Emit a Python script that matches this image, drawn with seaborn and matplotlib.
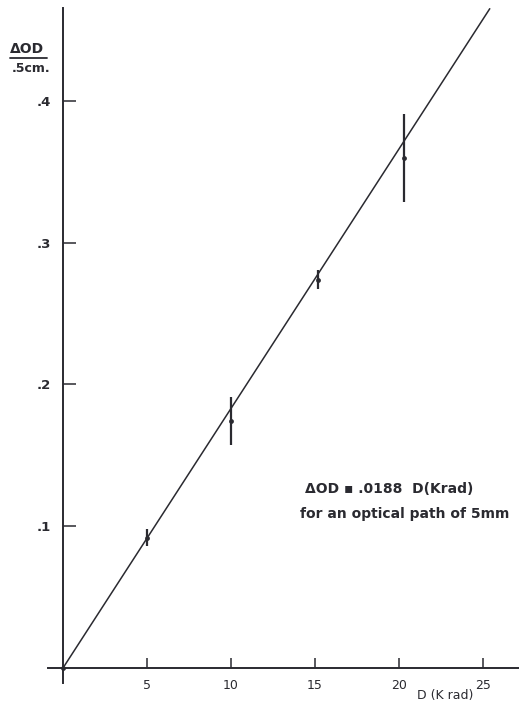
import matplotlib
matplotlib.use("Agg")
import matplotlib.pyplot as plt
from matplotlib.lines import Line2D
import pandas as pd
import seaborn as sns

# dose (Krad) vs optical density change per .5 cm
dose = [0, 5, 10, 15.2, 20.3]
delta_od = [0, 0.092, 0.174, 0.274, 0.360]
od_err = [0, 0.006, 0.017, 0.007, 0.031]

# fitted straight line, as drawn
fit_dose = [0, 25.4]
fit_od = [0, 0.465]

x_ticks = [5, 10, 15, 20, 25]
x_labels = ["5", "10", "15", "20", "25"]
y_ticks = [0.1, 0.2, 0.3, 0.4]
y_labels = [".1", ".2", ".3", ".4"]

ink = "#2a2a30"

sns.set_style("white")
plt.rcParams["font.family"] = ["DejaVu Sans"]

fig = plt.figure(figsize=(5.19, 7.07), dpi=100)
W, H = 519, 707
ax = fig.add_axes([48 / W, 1 - 683 / H, (519 - 48) / W, (683 - 8) / H])

pts = pd.DataFrame({"dose": dose, "od": delta_od, "err": od_err})
fit = pd.DataFrame({"dose": fit_dose, "od": fit_od})

sns.lineplot(data=fit, x="dose", y="od", color=ink, linewidth=1.1, ax=ax)
ax.errorbar(pts["dose"], pts["od"], yerr=pts["err"], fmt="none",
            ecolor=ink, elinewidth=1.6, capsize=0, zorder=3)
sns.scatterplot(data=pts, x="dose", y="od", color=ink, s=12, marker="o",
                edgecolor=ink, linewidth=0, ax=ax, zorder=4)

ax.set_xlim(-0.893, 27.14)
ax.set_ylim(-0.0106, 0.4655)

for side in ["top", "right"]:
    ax.spines[side].set_visible(False)
ax.spines["left"].set_position(("data", 0))
ax.spines["bottom"].set_position(("data", 0))
for side in ["left", "bottom"]:
    ax.spines[side].set_color(ink)
    ax.spines[side].set_linewidth(1.4)

ax.set_xticks(x_ticks)
ax.set_xticklabels(x_labels)
ax.set_yticks(y_ticks)
ax.set_yticklabels(y_labels, fontweight="bold")
ax.tick_params(axis="x", bottom=True, direction="in", length=7.5, width=1.1,
               color=ink, pad=8, labelsize=9, labelcolor=ink)
ax.tick_params(axis="y", left=True, direction="in", length=9.5, width=1.1,
               color=ink, pad=9, labelsize=9.5, labelcolor=ink)
ax.yaxis.get_major_ticks()[0].tick1line.set_color("#5aa36a")
ax.set_xlabel("")
ax.set_ylabel("")

# axis titles
fig.text(445 / W, 1 - 695 / H, "D (K rad)", ha="center", va="center",
         fontsize=9, color=ink)
fig.text(27 / W, 1 - 49 / H, "\u0394OD", ha="center", va="center",
         fontsize=10, fontweight="bold", color=ink)
fig.add_artist(Line2D([10 / W, 47 / W], [1 - 58 / H, 1 - 58 / H],
                      color=ink, linewidth=1.3))
fig.text(31 / W, 1 - 68 / H, ".5cm.", ha="center", va="center",
         fontsize=9, fontweight="bold", color=ink)

# fit equation
fig.text(305 / W, 1 - 489 / H, "\u0394OD \u25aa .0188  D(Krad)", ha="left",
         va="center", fontsize=10, fontweight="bold", color=ink)
fig.text(300 / W, 1 - 514 / H, "for an optical path of 5mm", ha="left",
         va="center", fontsize=10, fontweight="bold", color=ink)

fig.savefig("out.png", dpi=100, facecolor="white")
